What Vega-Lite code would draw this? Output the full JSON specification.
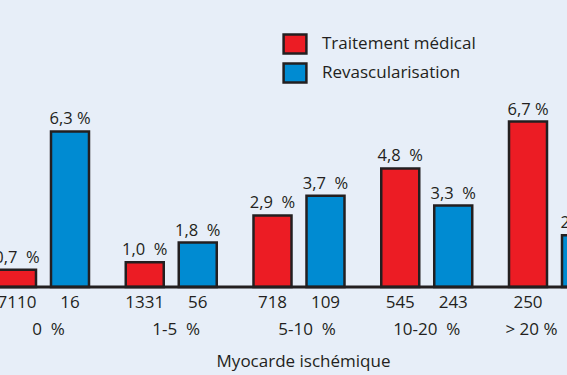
{
  "$schema": "https://vega.github.io/schema/vega-lite/v6.json",
  "width": 567,
  "height": 375,
  "autosize": {"type": "none"},
  "padding": 0,
  "background": "#e7eef8",
  "config": {"view": {"stroke": null}, "font": "Open Sans"},
  "data": {
    "values": [
      {"group": "0\u00a0\u00a0%", "series": "Traitement médical", "pct": 0.7, "label": "0,7\u00a0\u00a0%", "n": "7110"},
      {"group": "0\u00a0\u00a0%", "series": "Revascularisation", "pct": 6.3, "label": "6,3\u00a0%", "n": "16"},
      {"group": "1-5\u00a0\u00a0%", "series": "Traitement médical", "pct": 1.0, "label": "1,0\u00a0\u00a0%", "n": "1331"},
      {"group": "1-5\u00a0\u00a0%", "series": "Revascularisation", "pct": 1.8, "label": "1,8\u00a0\u00a0%", "n": "56"},
      {"group": "5-10\u00a0\u00a0%", "series": "Traitement médical", "pct": 2.9, "label": "2,9\u00a0\u00a0%", "n": "718"},
      {"group": "5-10\u00a0\u00a0%", "series": "Revascularisation", "pct": 3.7, "label": "3,7\u00a0\u00a0%", "n": "109"},
      {"group": "10-20\u00a0\u00a0%", "series": "Traitement médical", "pct": 4.8, "label": "4,8\u00a0\u00a0%", "n": "545"},
      {"group": "10-20\u00a0\u00a0%", "series": "Revascularisation", "pct": 3.3, "label": "3,3\u00a0\u00a0%", "n": "243"},
      {"group": "> 20 %", "series": "Traitement médical", "pct": 6.7, "label": "6,7\u00a0%", "n": "250"},
      {"group": "> 20 %", "series": "Revascularisation", "pct": 2.1, "label": "2,1\u00a0%", "n": "62"}
    ]
  },
  "layer": [
    {
      "mark": {"type": "bar", "stroke": "#231f20", "strokeWidth": 2.5},
      "encoding": {
        "x": {
          "field": "group", "type": "nominal",
          "sort": ["0\u00a0\u00a0%", "1-5\u00a0\u00a0%", "5-10\u00a0\u00a0%", "10-20\u00a0\u00a0%", "> 20 %"],
          "scale": {"range": [-2, 600], "paddingInner": 0.2877, "paddingOuter": 0},
          "axis": {
            "orient": "bottom", "offset": -55, "domain": false, "ticks": false,
            "labelAngle": 0, "labelPadding": 14, "labelBaseline": "alphabetic",
            "labelFontSize": 17, "labelColor": "#231f20", "labelFont": "Open Sans",
            "labelOffset": {"condition": [
              {"test": "datum.value === '> 20 %'", "value": -23},
              {"test": "datum.index > 0.4 && datum.index < 0.6", "value": 8},
              {"test": "datum.index > 0.7 && datum.index < 0.8", "value": 0}
            ], "value": 5},
            "labelOverlap": false,
            "title": "Myocarde ischémique", "titleFontSize": 17, "titleFontWeight": "normal",
            "titleColor": "#231f20", "titleBaseline": "alphabetic", "titleY": 46, "titleX": 303
          }
        },
        "xOffset": {
          "field": "series", "type": "nominal",
          "sort": ["Traitement médical", "Revascularisation"],
          "scale": {"paddingInner": 0.283, "paddingOuter": 0}
        },
        "y": {
          "field": "pct", "type": "quantitative",
          "scale": {"domain": [-3.56, 11.62], "nice": false, "zero": false},
          "axis": null
        },
        "color": {
          "field": "series", "type": "nominal",
          "sort": ["Traitement médical", "Revascularisation"],
          "scale": {"domain": ["Traitement médical", "Revascularisation"], "range": ["#ec1c24", "#008bd2"]},
          "legend": {
            "title": null, "orient": "none", "legendX": 284, "legendY": 33, "padding": 0,
            "symbolType": "M-1.2,-1L1.2,-1L1.2,1L-1.2,1Z", "symbolSize": 361,
            "symbolStrokeColor": "#231f20", "symbolStrokeWidth": 2.5, "symbolOpacity": 1,
            "labelFontSize": 17, "labelColor": "#231f20", "labelOffset": 16, "rowPadding": -1,
            "labelFont": "Open Sans"
          }
        }
      }
    },
    {
      "data": {"values": [{}]},
      "mark": {"type": "rule", "stroke": "#231f20", "strokeWidth": 3},
      "encoding": {"y": {"datum": 0}}
    },
    {
      "mark": {"type": "text", "baseline": "alphabetic", "dy": -7, "fontSize": 16.5, "color": "#231f20"},
      "encoding": {
        "x": {"field": "group", "type": "nominal", "sort": ["0\u00a0\u00a0%", "1-5\u00a0\u00a0%", "5-10\u00a0\u00a0%", "10-20\u00a0\u00a0%", "> 20 %"]},
        "xOffset": {"field": "series", "type": "nominal", "sort": ["Traitement médical", "Revascularisation"]},
        "y": {"field": "pct", "type": "quantitative"},
        "text": {"field": "label"}
      }
    },
    {
      "mark": {"type": "text", "baseline": "alphabetic", "fontSize": 17, "color": "#231f20"},
      "encoding": {
        "x": {"field": "group", "type": "nominal", "sort": ["0\u00a0\u00a0%", "1-5\u00a0\u00a0%", "5-10\u00a0\u00a0%", "10-20\u00a0\u00a0%", "> 20 %"]},
        "xOffset": {"field": "series", "type": "nominal", "sort": ["Traitement médical", "Revascularisation"]},
        "y": {"datum": -0.85},
        "text": {"field": "n"}
      }
    }
  ]
}
